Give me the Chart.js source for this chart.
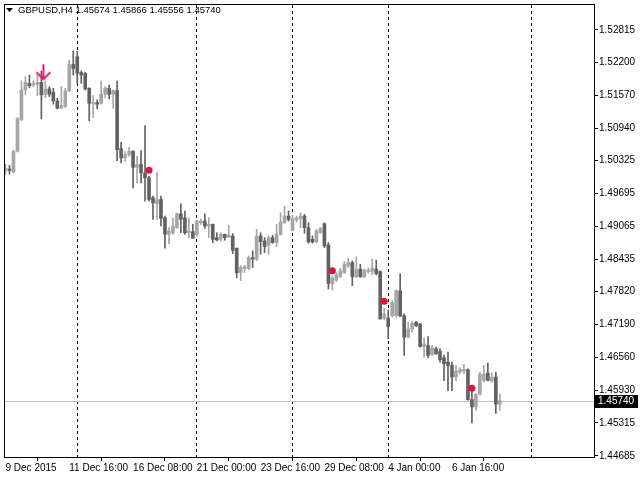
<!DOCTYPE html>
<html>
<head>
<meta charset="utf-8">
<script src="https://cdn.jsdelivr.net/npm/chart.js@4.4.0/dist/chart.umd.min.js"></script>
<style>
  html, body { margin: 0; padding: 0; background: #fff; }
  canvas { display: block; }
</style>
</head>
<body>
<canvas id="chart" width="640" height="480"></canvas>
<script>
'use strict';

const symbol = 'GBPUSD,H4';

// H4 bars, one per 4 hours, from 9 Dec 2015 00:00
const opens = [
  1.50131, 1.50162, 1.50105, 1.50498, 1.51100, 1.51670, 1.51796, 1.51765, 1.51777, 1.51815,
  1.51587, 1.51689, 1.51625, 1.51461, 1.51321, 1.51353, 1.51651, 1.52157, 1.52303, 1.52005,
  1.51986, 1.51701, 1.51404, 1.51429, 1.51416, 1.51587, 1.51701, 1.51587, 1.51657, 1.50549,
  1.50371, 1.50435, 1.50498, 1.50194, 1.50245, 1.50086, 1.49991, 1.49611, 1.49497, 1.49580,
  1.49231, 1.48915, 1.48946, 1.49041, 1.49307, 1.49231, 1.48946, 1.48965, 1.48915, 1.49136,
  1.49168, 1.49073, 1.49105, 1.48851, 1.48820, 1.48915, 1.48864, 1.48883, 1.48649, 1.48186,
  1.48262, 1.48262, 1.48471, 1.48440, 1.48883, 1.48788, 1.48706, 1.48851, 1.48756, 1.48915,
  1.49136, 1.49263, 1.48991, 1.49187, 1.49212, 1.49263, 1.49041, 1.48820, 1.48769, 1.48946,
  1.49117, 1.48712, 1.47977, 1.48041, 1.48104, 1.48186, 1.48313, 1.48376, 1.48104, 1.48250,
  1.48104, 1.48205, 1.48205, 1.48250, 1.48205, 1.47319, 1.47319, 1.47363, 1.47363, 1.47838,
  1.47363, 1.46951, 1.47110, 1.47236, 1.47205, 1.46774, 1.46793, 1.46622, 1.46730, 1.46685,
  1.46559, 1.46476, 1.46413, 1.46191, 1.46286, 1.46305, 1.46331, 1.45761, 1.45621, 1.45862,
  1.46128, 1.46267, 1.46115, 1.46191, 1.45674
];
const highs = [
  1.50251, 1.50232, 1.50523, 1.51144, 1.51841, 1.51923, 1.51955, 1.51841, 1.51955, 1.52031,
  1.51841, 1.51733, 1.51701, 1.51511, 1.51733, 1.51701, 1.52240, 1.52411, 1.52411, 1.52031,
  1.52009, 1.51714, 1.51562, 1.51480, 1.51841, 1.51733, 1.51765, 1.51670, 1.51841, 1.50669,
  1.50498, 1.50574, 1.50511, 1.50403, 1.50511, 1.50992, 1.50023, 1.49643, 1.50099, 1.49643,
  1.49263, 1.49041, 1.49231, 1.49320, 1.49497, 1.49358, 1.49231, 1.49105, 1.49181, 1.49200,
  1.49307, 1.49231, 1.49111, 1.48946, 1.48946, 1.48921, 1.49086, 1.48927, 1.48655, 1.48313,
  1.48326, 1.48503, 1.48598, 1.49010, 1.48946, 1.48851, 1.48883, 1.48896, 1.49105, 1.49326,
  1.49453, 1.49358, 1.49276, 1.49263, 1.49326, 1.49295, 1.49136, 1.48883, 1.49010, 1.49041,
  1.49136, 1.48756, 1.48123, 1.48186, 1.48269, 1.48395, 1.48459, 1.48408, 1.48484, 1.48345,
  1.48250, 1.48269, 1.48440, 1.48421, 1.48218, 1.47509, 1.47471, 1.47648, 1.47857, 1.48167,
  1.47395, 1.47236, 1.47255, 1.47255, 1.47217, 1.46939, 1.46964, 1.46793, 1.46761, 1.46730,
  1.46603, 1.46666, 1.46476, 1.46413, 1.46369, 1.46432, 1.46350, 1.45970, 1.45875, 1.46286,
  1.46413, 1.46457, 1.46267, 1.46286, 1.45866
];
const lows = [
  1.50061, 1.50067, 1.50086, 1.50485, 1.51081, 1.51575, 1.51714, 1.51727, 1.51562, 1.51119,
  1.51524, 1.51543, 1.51397, 1.51306, 1.51315, 1.51334, 1.51638, 1.51955, 1.51796, 1.51796,
  1.51670, 1.51081, 1.51144, 1.51309, 1.51397, 1.51524, 1.51499, 1.51321, 1.50321, 1.50276,
  1.50308, 1.50403, 1.49801, 1.49896, 1.49896, 1.49548, 1.49548, 1.49200, 1.49200, 1.49073,
  1.48649, 1.48737, 1.48915, 1.49029, 1.48946, 1.48915, 1.48851, 1.48836, 1.48883, 1.49105,
  1.49029, 1.48851, 1.48756, 1.48788, 1.48788, 1.48801, 1.48851, 1.48547, 1.48085, 1.48028,
  1.48186, 1.48237, 1.48281, 1.48408, 1.48535, 1.48566, 1.48535, 1.48744, 1.48680, 1.48896,
  1.49124, 1.49168, 1.48978, 1.49149, 1.49041, 1.48934, 1.48744, 1.48744, 1.48756, 1.48934,
  1.48661, 1.47870, 1.47851, 1.48015, 1.48091, 1.48167, 1.48281, 1.47933, 1.48091, 1.48095,
  1.48091, 1.48167, 1.48142, 1.48142, 1.47297, 1.47281, 1.46920, 1.47331, 1.47331, 1.47344,
  1.46603, 1.46939, 1.47046, 1.47154, 1.46761, 1.46571, 1.46559, 1.46603, 1.46622, 1.46476,
  1.46122, 1.45932, 1.45932, 1.46122, 1.46255, 1.46255, 1.45748, 1.45317, 1.45558, 1.45843,
  1.46096, 1.46115, 1.46096, 1.45495, 1.45556
];
const closes = [
  1.50181, 1.50131, 1.50498, 1.51119, 1.51670, 1.51815, 1.51752, 1.51790, 1.51815, 1.51575,
  1.51689, 1.51587, 1.51461, 1.51321, 1.51372, 1.51651, 1.52157, 1.52081, 1.51986, 1.51955,
  1.51689, 1.51416, 1.51429, 1.51397, 1.51587, 1.51701, 1.51587, 1.51657, 1.50530, 1.50371,
  1.50435, 1.50498, 1.50194, 1.50245, 1.50086, 1.49991, 1.49580, 1.49516, 1.49580, 1.49216,
  1.48915, 1.48978, 1.49073, 1.49307, 1.49200, 1.48946, 1.48978, 1.48839, 1.49168, 1.49168,
  1.49073, 1.49105, 1.48820, 1.48807, 1.48915, 1.48851, 1.48902, 1.48611, 1.48180, 1.48281,
  1.48294, 1.48471, 1.48440, 1.48883, 1.48775, 1.48680, 1.48851, 1.48756, 1.48915, 1.49149,
  1.49263, 1.49200, 1.49212, 1.49231, 1.49263, 1.49041, 1.48769, 1.48769, 1.48978, 1.49026,
  1.48693, 1.47977, 1.48079, 1.48142, 1.48218, 1.48345, 1.48376, 1.48104, 1.48250, 1.48104,
  1.48231, 1.48231, 1.48269, 1.48167, 1.47300, 1.47395, 1.47154, 1.47616, 1.47838, 1.47354,
  1.46951, 1.47110, 1.47217, 1.47173, 1.46774, 1.46825, 1.46603, 1.46749, 1.46635, 1.46521,
  1.46445, 1.46407, 1.46191, 1.46305, 1.46331, 1.46337, 1.45761, 1.45621, 1.45862, 1.46242,
  1.46242, 1.46128, 1.46191, 1.45672, 1.45740
];

const dateLabels = ['9 Dec 2015', '11 Dec 16:00', '16 Dec 08:00', '21 Dec 00:00',
                    '23 Dec 16:00', '29 Dec 08:00', '4 Jan 00:00', '6 Jan 16:00'];
const dateLabelBars = [0, 16, 32, 48, 64, 80, 96, 112];

const priceTicks = [1.52815, 1.52200, 1.51570, 1.50940, 1.50325, 1.49695, 1.49065,
                    1.48435, 1.47820, 1.47190, 1.46560, 1.45930, 1.45315, 1.44685];

// period separators (first bar of each week)
const weekStarts = [18, 48, 72, 96, 132];

// indicator signals
const arrowBars = [9];
const arrowPrices = [1.52008];
const dotBars = [36, 82, 95, 117];
const dotPrices = [1.50137, 1.48218, 1.47635, 1.45976];

const upColor = '#a6a6a6';
const downColor = '#626262';
const font = { family: "'Liberation Sans', Arial, sans-serif", size: 10 };

function candleColor(ctx) {
  const i = ctx.dataIndex;
  return closes[i] >= opens[i] ? upColor : downColor;
}

// little down arrow used as a point style
const arrowImg = document.createElement('canvas');
arrowImg.width = 20;
arrowImg.height = 18;
(function () {
  const c = arrowImg.getContext('2d');
  c.strokeStyle = '#e8176a';
  c.lineWidth = 2;
  c.beginPath();
  c.moveTo(12, 1); c.lineTo(12, 16);
  c.moveTo(5, 9); c.lineTo(12, 16); c.lineTo(19, 9);
  c.stroke();
})();

const last = closes.length - 1;

const mtDecor = {
  id: 'mtDecor',
  beforeDatasetsDraw(chart) {
    const { ctx, chartArea: a, scales: { x, y } } = chart;
    ctx.save();
    ctx.beginPath();
    ctx.rect(a.left, a.top, a.width, a.height);
    ctx.clip();
    ctx.strokeStyle = '#000';
    ctx.lineWidth = 1;
    ctx.setLineDash([3, 3]);
    weekStarts.forEach(function (b) {
      const px = Math.floor(x.getPixelForValue(b)) + 0.5;
      ctx.beginPath();
      ctx.moveTo(px, a.top);
      ctx.lineTo(px, a.bottom);
      ctx.stroke();
    });
    ctx.setLineDash([]);
    const py = Math.round(y.getPixelForValue(closes[last])) + 0.5;
    ctx.strokeStyle = '#c0c0c0';
    ctx.beginPath();
    ctx.moveTo(a.left, py);
    ctx.lineTo(a.right, py);
    ctx.stroke();
    ctx.restore();
  },
  afterDraw(chart) {
    const { ctx, chartArea: a, scales: { y } } = chart;
    ctx.save();
    ctx.strokeStyle = '#000';
    ctx.lineWidth = 1;
    ctx.strokeRect(a.left - 0.5, a.top - 0.5, a.width + 1, a.height + 1);

    // header
    ctx.fillStyle = '#000';
    ctx.beginPath();
    ctx.moveTo(6, 8); ctx.lineTo(13, 8); ctx.lineTo(9.5, 12); ctx.closePath();
    ctx.fill();
    ctx.font = '9.5px ' + font.family;
    ctx.textBaseline = 'middle';
    ctx.textAlign = 'left';
    const head = symbol + ' ' + [opens[last], highs[last], lows[last], closes[last]]
      .map(function (v) { return v.toFixed(5); }).join(' ');
    ctx.fillText(head, 18, 10);

    // current price box
    ctx.font = '10px ' + font.family;
    const py = Math.round(y.getPixelForValue(closes[last]));
    ctx.fillStyle = '#000';
    ctx.fillRect(a.right + 1, py - 6, 43, 13);
    ctx.fillStyle = '#fff';
    ctx.fillText(closes[last].toFixed(5), a.right + 4, py + 0.5);
    ctx.restore();
  }
};

new Chart(document.getElementById('chart'), {
  type: 'bar',
  data: {
    datasets: [
      {
        label: 'wick',
        data: opens.map(function (_, i) { return { x: i, y: [lows[i], highs[i]] }; }),
        backgroundColor: candleColor,
        barThickness: 1,
        grouped: false,
        minBarLength: 1,
        order: 3
      },
      {
        label: 'body',
        data: opens.map(function (_, i) { return { x: i, y: [opens[i], closes[i]] }; }),
        backgroundColor: candleColor,
        barThickness: 3,
        grouped: false,
        minBarLength: 1,
        order: 2
      },
      {
        type: 'scatter',
        label: 'dots',
        data: dotBars.map(function (b, k) { return { x: b, y: dotPrices[k] }; }),
        pointRadius: 3.5,
        backgroundColor: '#dc143c',
        borderWidth: 0,
        order: 1
      },
      {
        type: 'scatter',
        label: 'arrow',
        data: arrowBars.map(function (b, k) { return { x: b, y: arrowPrices[k] }; }),
        pointStyle: arrowImg,
        order: 0
      }
    ]
  },
  options: {
    responsive: false,
    animation: false,
    events: [],
    layout: { padding: { left: 3, top: 3, right: 0, bottom: 0 } },
    plugins: { legend: { display: false }, tooltip: { enabled: false } },
    scales: {
      x: {
        type: 'linear',
        offset: false,
        min: -0.125,
        max: 147.625,
        afterFit: function (s) { s.height = 23; s.paddingLeft = 0; s.paddingRight = 0; },
        afterBuildTicks: function (s) {
          s.ticks = dateLabelBars.map(function (b) { return { value: b }; });
        },
        ticks: {
          autoSkip: false,
          maxRotation: 0,
          align: 'start',
          padding: 1,
          color: '#000',
          font: font,
          callback: function (v) {
            const k = dateLabelBars.indexOf(v);
            return k >= 0 ? dateLabels[k] : '';
          }
        },
        grid: { drawOnChartArea: false, drawTicks: true, tickLength: 4, color: '#000' },
        border: { display: false }
      },
      y: {
        type: 'linear',
        position: 'right',
        beginAtZero: false,
        min: 1.44665,
        max: 1.53291,
        afterFit: function (s) { s.width = 46; s.paddingTop = 0; s.paddingBottom = 0; },
        afterBuildTicks: function (s) {
          s.ticks = priceTicks.map(function (v) { return { value: v }; });
        },
        ticks: {
          autoSkip: false,
          padding: 1,
          color: '#000',
          font: font,
          callback: function (v) { return Number(v).toFixed(5); }
        },
        grid: { drawOnChartArea: false, drawTicks: true, tickLength: 4, color: '#000' },
        border: { display: false }
      }
    }
  },
  plugins: [mtDecor]
});
</script>
</body>
</html>
